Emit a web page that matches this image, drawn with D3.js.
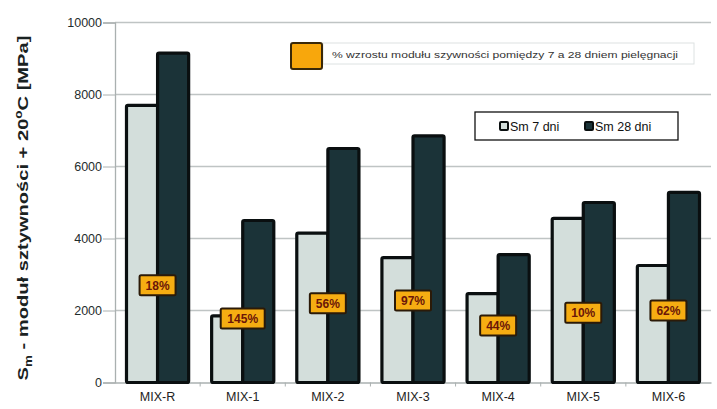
<!DOCTYPE html>
<html>
<head>
<meta charset="utf-8">
<script src="https://cdn.jsdelivr.net/npm/d3@7"></script>
<style>
  body { margin: 0; background: #fff; }
  svg { font-family: Arial, "Liberation Sans", sans-serif; }
</style>
</head>
<body>
<svg id="chart" width="717" height="409"></svg>
<script>
// data
var categories = ['MIX-R', 'MIX-1', 'MIX-2', 'MIX-3', 'MIX-4', 'MIX-5', 'MIX-6'];
var sm7 = [7700, 1850, 4150, 3470, 2470, 4560, 3250];
var sm28 = [9150, 4500, 6500, 6850, 3550, 5000, 5280];
var growthLabels = ['18%', '145%', '56%', '97%', '44%', '10%', '62%'];
var labelLevel = [2700, 1780, 2200, 2280, 1580, 1940, 2000]; // MPa level of each % box
var yTicks = [0, 2000, 4000, 6000, 8000, 10000];
var seriesNames = ['Sm 7 dni', 'Sm 28 dni'];

var svg = d3.select('#chart');
var mLeft = 115, mRight = 711, mTop = 22.5, mBottom = 382.5;

var x = d3.scaleBand().domain(categories).range([mLeft, mRight]).paddingInner(0.27).paddingOuter(0.135);
var x1 = d3.scaleBand().domain([0, 1]).range([0, x.bandwidth()]);
var y = d3.scaleLinear().domain([0, 10000]).range([mBottom, mTop]);

var colors = ['#d3dedb', '#1b3338'];

// gridlines
svg.append('g')
	.selectAll('line')
	.data(yTicks.slice(1))
	.enter().append('line')
	.attr('x1', mLeft).attr('x2', mRight)
	.attr('y1', function(d){ return y(d); })
	.attr('y2', function(d){ return y(d); })
	.attr('stroke', '#bfc4c4')
	.attr('stroke-width', 1.3);

// y axis
var yAxis = d3.axisLeft(y).tickValues(yTicks).tickFormat(d3.format('d')).tickSize(12).tickPadding(1);
var gy = svg.append('g').attr('transform', 'translate(' + mLeft + ',0)').call(yAxis);
gy.select('.domain').attr('stroke', '#aab0b0').attr('stroke-width', 1.3);
gy.selectAll('.tick line').attr('stroke', '#aab0b0');
gy.selectAll('.tick text').attr('font-size', 12.5).attr('fill', '#1f2d2d').attr('font-family', 'Arial, "Liberation Sans", sans-serif');

// x axis
var xAxis = d3.axisBottom(x).tickSize(0).tickPadding(10);
var gx = svg.append('g').attr('transform', 'translate(0,' + mBottom + ')').call(xAxis);
gx.select('.domain').attr('stroke', '#aab0b0').attr('stroke-width', 1.3);
gx.selectAll('.tick text').attr('font-size', 12.5).attr('fill', '#222').attr('font-family', 'Arial, "Liberation Sans", sans-serif');
// small separators between categories
svg.append('g').selectAll('line')
	.data(categories.slice(1))
	.enter().append('line')
	.attr('x1', function(d){ return x(d) - x.step() * x.paddingInner() / 2; })
	.attr('x2', function(d){ return x(d) - x.step() * x.paddingInner() / 2; })
	.attr('y1', mBottom).attr('y2', mBottom + 4)
	.attr('stroke', '#aab0b0');

// bars
var rows = categories.map(function(c, i){ return { cat: c, vals: [sm7[i], sm28[i]] }; });
var groups = svg.append('g').selectAll('g')
	.data(rows)
	.enter().append('g')
	.attr('transform', function(d){ return 'translate(' + x(d.cat) + ',0)'; });

groups.selectAll('rect')
	.data(function(d){ return d.vals.map(function(v, k){ return { k: k, v: v }; }); })
	.enter().append('rect')
	.attr('x', function(d){ return x1(d.k); })
	.attr('y', function(d){ return y(d.v); })
	.attr('width', x1.bandwidth())
	.attr('height', function(d){ return y(0) - y(d.v); })
	.attr('rx', 1.5)
	.attr('fill', function(d){ return colors[d.k]; })
	.attr('stroke', '#0a0f10')
	.attr('stroke-width', 3.2);

// % boxes
var lab = svg.append('g').selectAll('g')
	.data(categories)
	.enter().append('g')
	.attr('transform', function(d, i){
		return 'translate(' + (x(d) + x.bandwidth() / 2) + ',' + y(labelLevel[i]) + ')';
	});
lab.append('rect')
	.attr('x', function(d, i){ return growthLabels[i].length > 3 ? -22 : -18; })
	.attr('width', function(d, i){ return growthLabels[i].length > 3 ? 44 : 36; })
	.attr('y', -10).attr('height', 20)
	.attr('rx', 1.5)
	.attr('fill', '#f6ad12')
	.attr('stroke', '#2b1a08')
	.attr('stroke-width', 2);
lab.append('text')
	.attr('text-anchor', 'middle')
	.attr('dy', '0.36em')
	.attr('font-size', 12)
	.attr('font-weight', 'bold')
	.attr('fill', '#6b1608')
	.text(function(d, i){ return growthLabels[i]; });

// legend 1: growth %
var lg1 = svg.append('g');
lg1.append('rect').attr('x', 323).attr('y', 43).attr('width', 371).attr('height', 21)
	.attr('fill', '#fff').attr('stroke', '#dde2e2').attr('stroke-width', 1);
lg1.append('rect').attr('x', 291).attr('y', 43).attr('width', 31).attr('height', 26)
	.attr('rx', 2).attr('fill', '#f8a70c').attr('stroke', '#3a2808').attr('stroke-width', 2);
lg1.append('text').attr('x', 332).attr('y', 57.5)
	.attr('font-size', 9.5).attr('fill', '#333')
	.attr('textLength', 346).attr('lengthAdjust', 'spacingAndGlyphs')
	.text('% wzrostu modułu szywności pomiędzy 7 a 28 dniem pielęgnacji');

// legend 2: series
var lg2 = svg.append('g');
lg2.append('rect').attr('x', 475).attr('y', 112).attr('width', 203).attr('height', 28)
	.attr('fill', '#fff').attr('stroke', '#111').attr('stroke-width', 1.3);
var items = lg2.selectAll('g')
	.data(seriesNames)
	.enter().append('g')
	.attr('transform', function(d, i){ return 'translate(' + (500 + i * 85) + ',126)'; });
items.append('rect')
	.attr('x', 0).attr('y', -4).attr('width', 8).attr('height', 8).attr('rx', 1)
	.attr('fill', function(d, i){ return colors[i]; })
	.attr('stroke', '#0a0f10').attr('stroke-width', 2);
items.append('text')
	.attr('x', 10).attr('dy', '0.36em')
	.attr('font-size', 12.5).attr('fill', '#111')
	.text(function(d){ return d; });

// y title, stretched to the height it has in the picture
var yt = svg.append('text')
	.attr('text-anchor', 'middle')
	.attr('font-size', 15)
	.attr('font-weight', 'bold')
	.attr('fill', '#1a2222');
yt.append('tspan').text('S');
yt.append('tspan').attr('font-size', 10).attr('dy', 4).text('m');
yt.append('tspan').attr('dy', -4).text(' - moduł sztywności + 20');
yt.append('tspan').attr('font-size', 10).attr('dy', -6).text('o');
yt.append('tspan').attr('dy', 6).text('C [MPa]');
var tw = yt.node().getBBox().width;
var sx = 345 / tw;
yt.attr('transform', 'translate(28,208) rotate(-90) scale(' + sx + ',1)');
</script>
</body>
</html>
